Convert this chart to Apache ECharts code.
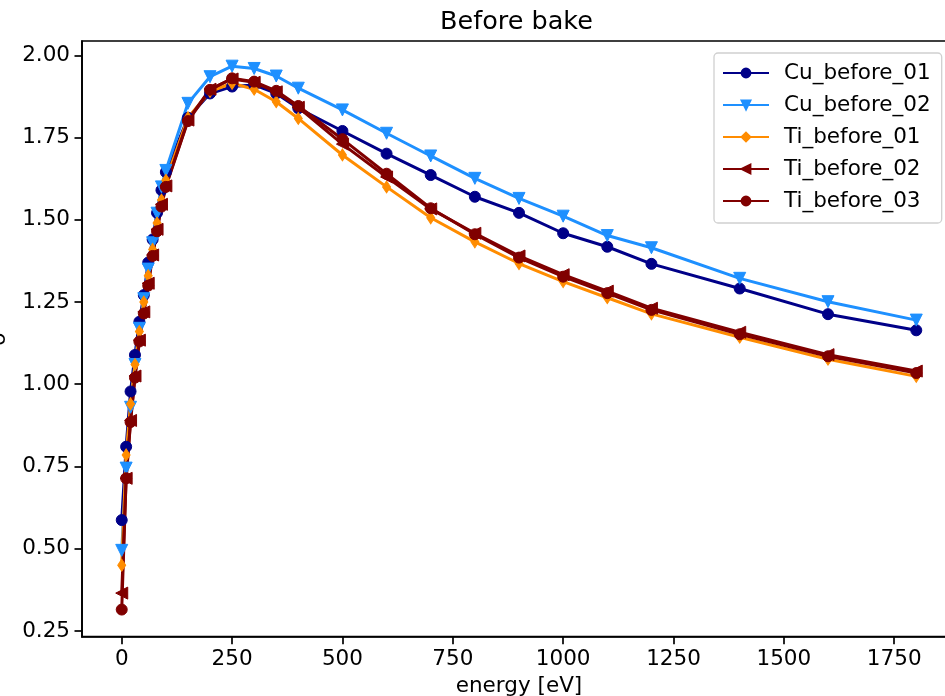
<!DOCTYPE html>
<html>
<head>
<meta charset="utf-8">
<script src="https://cdn.jsdelivr.net/npm/echarts@6/dist/echarts.min.js"></script>
<style>html,body{margin:0;padding:0;background:#fff;}#c{width:945px;height:696px;}</style>
</head>
<body>
<div id="c"></div>
<script>
const energy = [0,10,20,30,40,50,60,70,80,90,100,150,200,250,300,350,400,500,600,700,800,900,1000,1100,1200,1400,1600,1800];
const cuBefore01 = [0.587,0.81,0.978,1.089,1.19,1.271,1.37,1.44,1.521,1.59,1.645,1.81,1.884,1.905,1.910,1.884,1.839,1.770,1.701,1.636,1.570,1.521,1.459,1.418,1.366,1.291,1.213,1.164];
const cuBefore02 = [0.495,0.745,0.93,1.06,1.17,1.26,1.35,1.43,1.52,1.60,1.65,1.854,1.935,1.967,1.960,1.937,1.900,1.834,1.763,1.694,1.626,1.565,1.511,1.452,1.415,1.322,1.251,1.195];
const tiBefore01 = [0.450,0.785,0.94,1.06,1.16,1.25,1.33,1.41,1.49,1.56,1.62,1.81,1.89,1.915,1.897,1.859,1.808,1.697,1.600,1.506,1.433,1.367,1.312,1.263,1.214,1.143,1.076,1.024];
const tiBefore02 = [0.365,0.714,0.89,1.025,1.134,1.22,1.307,1.393,1.471,1.547,1.603,1.803,1.897,1.928,1.918,1.889,1.842,1.730,1.630,1.533,1.459,1.390,1.333,1.283,1.231,1.158,1.090,1.040];
const tiBefore03 = [0.315,0.714,0.885,1.02,1.13,1.215,1.30,1.39,1.465,1.54,1.60,1.80,1.895,1.93,1.92,1.892,1.846,1.745,1.640,1.535,1.456,1.385,1.327,1.277,1.226,1.152,1.085,1.034];
const xTicks = [0,250,500,750,1000,1250,1500,1750];
const yTicks = [0.25,0.5,0.75,1.0,1.25,1.5,1.75,2.0];
const seriesNames = ['Cu_before_01','Cu_before_02','Ti_before_01','Ti_before_02','Ti_before_03'];

const FONT = 'DejaVu Sans';
const FS = 21.5;
const zip = ys => energy.map((x,i)=>[x, ys[i]]);

const styles = [
  {color:'#000088', symbol:'circle', size:11, rot:0},
  {color:'#1e90ff', symbol:'triangle', size:12, rot:180},
  {color:'#ff8c00', symbol:'diamond', size:[8,12], rot:0},
  {color:'#800000', symbol:'triangle', size:12, rot:90},
  {color:'#800000', symbol:'circle', size:11, rot:0}
];
const datas = [cuBefore01, cuBefore02, tiBefore01, tiBefore02, tiBefore03];

const chart = echarts.init(document.getElementById('c'), null, {renderer:'canvas'});
chart.setOption({
  animation: false,
  backgroundColor: '#fff',
  title: {
    text: 'Before bake', left: 440, top: 9, padding: 0,
    textStyle: {fontFamily: FONT, fontSize: 25.5, fontWeight: 'normal', color: '#000'}
  },
  legend: {
    left: 714, top: 53, orient: 'vertical',
    data: seriesNames,
    itemWidth: 46, itemHeight: 11, itemGap: 8,
    padding: [8, 11, 10, 8],
    backgroundColor: '#fff', borderColor: '#d0d0d0', borderWidth: 1.3, borderRadius: 4,
    symbolRotate: 'inherit',
    textStyle: {fontFamily: FONT, fontSize: FS, color: '#000', lineHeight: 24, padding: [0,0,0,10]}
  },
  grid: {
    left: 82, top: 41, right: -11, bottom: 59.3,
    outerBoundsMode: 'none', containLabel: false,
    show: true, borderColor: '#000', borderWidth: 1.7, backgroundColor: 'transparent'
  },
  xAxis: {
    type: 'value', min: -90, max: 1890,
    name: 'energy [eV]', nameLocation: 'middle', nameGap: 34,
    nameTextStyle: {fontFamily: FONT, fontSize: FS, color: '#000'},
    axisLine: {show: true, onZero: false, lineStyle: {color: '#000', width: 1.7}},
    axisTick: {show: true, inside: false, length: 7.5, customValues: xTicks, lineStyle: {color: '#000', width: 1.7}},
    axisLabel: {customValues: xTicks, margin: 12, fontFamily: FONT, fontSize: FS, color: '#000',
      formatter: v => String(v)},
    splitLine: {show: false}
  },
  yAxis: {
    type: 'value', min: 0.2325, max: 2.0435,
    name: 'σ', nameLocation: 'middle', nameGap: 72, nameRotate: 90,
    nameTextStyle: {fontFamily: FONT, fontSize: FS, color: '#000'},
    axisLine: {show: true, onZero: false, lineStyle: {color: '#000', width: 1.7}},
    axisTick: {show: true, inside: false, length: 7.5, customValues: yTicks, lineStyle: {color: '#000', width: 1.7}},
    axisLabel: {customValues: yTicks, margin: 12, fontFamily: FONT, fontSize: FS, color: '#000',
      formatter: v => v.toFixed(2)},
    splitLine: {show: false}
  },
  series: seriesNames.map((n,i)=>({
    name: n, type: 'line', data: zip(datas[i]),
    symbol: styles[i].symbol, symbolSize: styles[i].size, symbolRotate: styles[i].rot,
    showAllSymbol: true,
    lineStyle: {color: styles[i].color, width: 3},
    itemStyle: {color: styles[i].color, borderColor: styles[i].color, borderWidth: 1},
    emphasis: {disabled: true}
  }))
});
</script>
</body>
</html>
